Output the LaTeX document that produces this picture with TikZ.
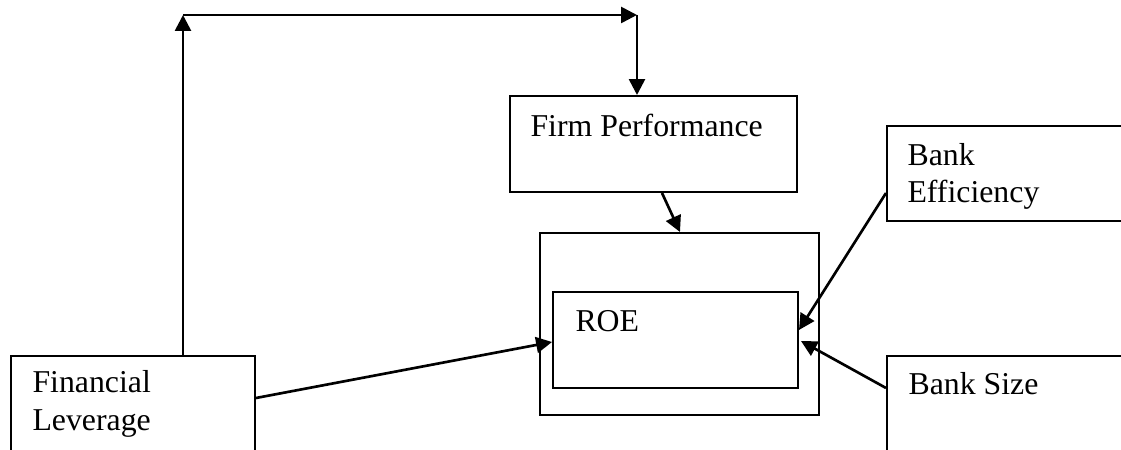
\documentclass[tikz,border=0pt]{standalone}
\usepackage{fontspec}
\setmainfont{Liberation Serif}
\usetikzlibrary{arrows.meta,fit,calc}
\begin{document}
\begin{tikzpicture}[x=0.3774pt,y=-0.3774pt,
  box/.style={draw, line width=0.75pt, inner sep=0pt, rectangle},
  lbl/.style={anchor=base west, inner sep=0pt, font=\fontsize{12pt}{14pt}\selectfont},
  arr/.style={line width=1pt, -{Triangle[length=6pt,width=6pt]}}]
\useasboundingbox (0,0) rectangle (1121,450);
\clip (0,0) rectangle (1121,450);
% boxes
\node[box, fit={(11,356) (255,480)}] (fl) {};
\node[box, fit={(510,96) (797,192)}] (fp) {};
\node[box, fit={(540,233) (819,415)}] (outer) {};
\node[box, fit={(553,292) (798,388)}] (roe) {};
\node[box, fit={(887,126) (1150,221)}] (be) {};
\node[box, fit={(887,356) (1150,480)}] (bs) {};
% labels
\node[lbl] (t1) at (32,393) {Financial};
\node[lbl] (t2) at (32,431) {Leverage};
\node[lbl] (t3) at (530,137) {Firm Performance};
\node[lbl] (t4) at (575,332) {ROE};
\node[lbl] (t5) at (907,166) {Bank};
\node[lbl] (t6) at (907,203) {Efficiency};
\node[lbl] (t7) at (908,395) {Bank Size};
% connectors
\coordinate (c1) at (183,15);
\coordinate (c2) at (637,15);
\draw[arr] (c1 |- fl.north) -- (c1);
\draw[arr] (c1) -- (c2);
\draw[arr] (c2) -- (c2 |- fp.north);
\draw[arr] ($(fp.south)+(8.5,0)$) -- ($(outer.north)+(0.5,0)$);
\draw[arr] ($(fl.east)+(0,-20)$) -- ($(roe.west)+(0,2)$);
\draw[arr] ($(be.west)+(0,19.5)$) -- ($(roe.east)+(0,-10)$);
\draw[arr] ($(bs.west)+(0,-30)$) -- ($(roe.east)+(2,1)$);
\end{tikzpicture}
\end{document}
